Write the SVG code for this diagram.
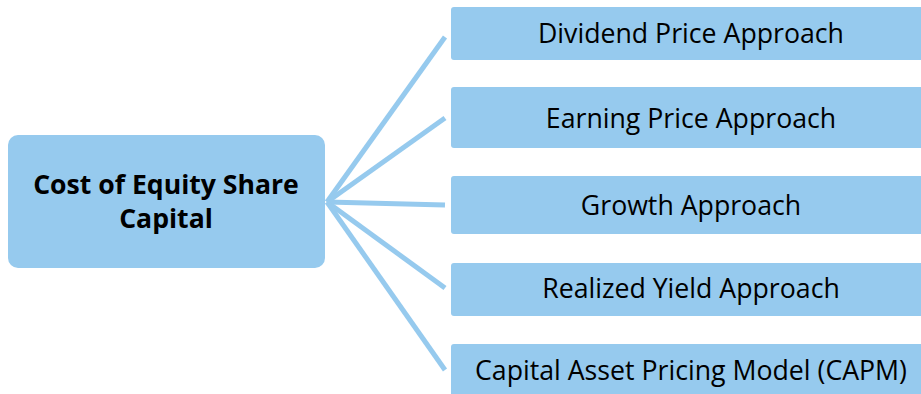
<svg xmlns="http://www.w3.org/2000/svg" width="921" height="394" viewBox="0 0 921 394">
<style>
.box{fill:#96CAEE}
.conn{stroke:#96CAEE;stroke-width:5;fill:none;stroke-linecap:butt}
.t{font-family:"Open Sans","Noto Sans",sans-serif;font-size:26.7px;fill:#000;text-anchor:middle}
.tb{font-family:"Open Sans","Noto Sans",sans-serif;font-size:26.6px;font-weight:bold;fill:#000;text-anchor:middle}
</style>
<rect width="921" height="394" fill="#fff"/>
<g id="connectors">
<line class="conn" x1="327" y1="202" x2="445" y2="37"/>
<line class="conn" x1="327" y1="202" x2="445" y2="118"/>
<line class="conn" x1="327" y1="202" x2="445" y2="205"/>
<line class="conn" x1="327" y1="202" x2="445" y2="288"/>
<line class="conn" x1="327" y1="202" x2="445" y2="370"/>
</g>
<g id="root">
<rect class="box" x="8" y="135" width="317" height="133" rx="10"/>
<text class="tb" x="166" y="194">Cost of Equity Share</text>
<text class="tb" x="166" y="228">Capital</text>
</g>
<g id="n1">
<rect class="box" x="451" y="7" width="490" height="53" rx="3"/>
<text class="t" x="691" y="43">Dividend Price Approach</text>
</g>
<g id="n2">
<rect class="box" x="451" y="87" width="490" height="61" rx="3"/>
<text class="t" x="691" y="128">Earning Price Approach</text>
</g>
<g id="n3">
<rect class="box" x="451" y="176" width="490" height="58" rx="3"/>
<text class="t" x="691" y="215">Growth Approach</text>
</g>
<g id="n4">
<rect class="box" x="451" y="263" width="490" height="53" rx="3"/>
<text class="t" x="691" y="298">Realized Yield Approach</text>
</g>
<g id="n5">
<rect class="box" x="451" y="344" width="490" height="60" rx="3"/>
<text class="t" x="691" y="380">Capital Asset Pricing Model (CAPM)</text>
</g>
</svg>
